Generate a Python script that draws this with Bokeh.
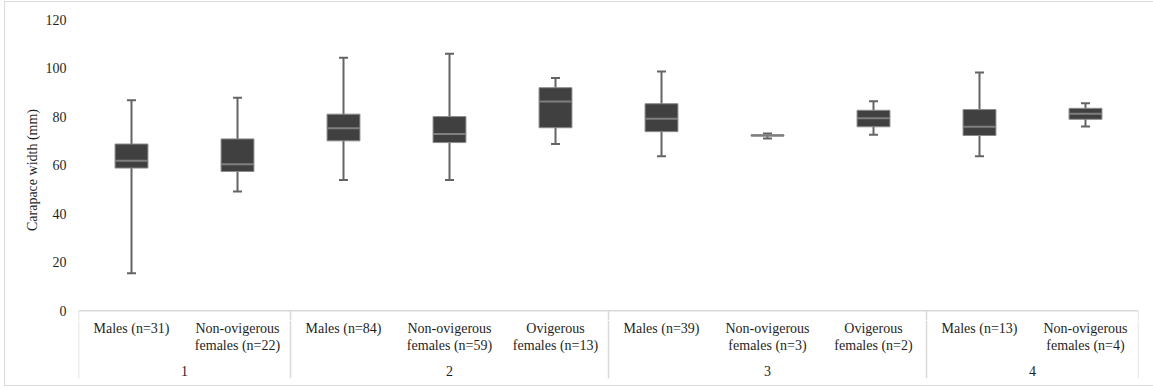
from bokeh.plotting import figure
from bokeh.layouts import column
from bokeh.models import FactorRange, Range1d, FixedTicker, ColumnDataSource
from bokeh.core.properties import value
from bokeh.embed import file_html
from bokeh.resources import INLINE

# ---- data ----
groups = ["1", "1", "2", "2", "2", "3", "3", "3", "4", "4"]
categories = [
    "Males (n=31)", "Non-ovigerous\nfemales (n=22)",
    "Males (n=84)", "Non-ovigerous\nfemales (n=59)", "Ovigerous\nfemales (n=13)",
    "Males (n=39)", "Non-ovigerous\nfemales (n=3)", "Ovigerous\nfemales (n=2)",
    "Males (n=13)", "Non-ovigerous\nfemales (n=4)",
]
mins    = [15.5, 49.1, 53.9, 53.9, 68.7, 63.7, 71.0, 72.5, 63.7, 75.9]
q1      = [58.8, 57.4, 70.0, 69.3, 75.4, 73.8, 72.0, 75.8, 72.2, 78.9]
medians = [61.8, 60.4, 75.2, 72.8, 86.2, 79.1, 72.2, 79.3, 75.8, 81.2]
q3      = [68.7, 70.8, 81.0, 80.0, 91.9, 85.3, 72.5, 82.6, 82.9, 83.4]
maxs    = [86.7, 87.8, 104.2, 105.9, 95.9, 98.6, 73.0, 86.3, 98.2, 85.5]
y_ticks = [0, 20, 40, 60, 80, 100, 120]
y_title = "Carapace width (mm)"

# ---- styling ----
FONT = "Liberation Serif"
TEXT_COLOR = "#1f1f1f"
BOX_W = 0.31
GRID_COLOR = "#d9d9d9"
SPLIT = -4.0      # value where the upper panel ends and the category table panel begins
TABLE_END = -27.9

factors = list(zip(groups, categories))
x_range = FactorRange(*factors, group_padding=0, factor_padding=0, range_padding=0)


def base(height, y_range, top, bottom):
    f = figure(width=1153, height=height, x_range=x_range, y_range=y_range,
               output_backend="svg", toolbar_location=None,
               min_border_left=78, min_border_right=15,
               min_border_top=top, min_border_bottom=bottom)
    f.outline_line_color = None
    f.border_fill_color = None
    f.background_fill_color = None
    f.xgrid.visible = False
    f.ygrid.visible = False
    f.xaxis.visible = False
    return f


p = base(320, Range1d(SPLIT, y_ticks[-1]), 19, 0)
t = base(67, Range1d(TABLE_END, SPLIT), 0, 9)
t.yaxis.visible = False

ax = p.yaxis[0]
ax.ticker = FixedTicker(ticks=y_ticks)
ax.axis_line_color = None
ax.major_tick_line_color = None
ax.minor_tick_line_color = None
ax.major_tick_out = 0
ax.major_tick_in = 0
ax.minor_tick_out = 0
ax.minor_tick_in = 0
ax.major_label_standoff = 12
ax.major_label_text_font = FONT
ax.major_label_text_font_size = "14px"
ax.major_label_text_color = TEXT_COLOR
ax.axis_label = y_title
ax.axis_label_text_font = FONT
ax.axis_label_text_font_size = "14px"
ax.axis_label_text_font_style = "normal"
ax.axis_label_text_color = TEXT_COLOR
ax.axis_label_standoff = 3

src = ColumnDataSource(dict(
    x=factors, lo=mins, q1=q1, med=medians, q3=q3, hi=maxs,
    xl=[(g, c, -BOX_W / 2) for g, c in factors],
    xr=[(g, c, BOX_W / 2) for g, c in factors],
))

# whiskers
p.segment(x0="x", x1="x", y0="lo", y1="hi", source=src, line_color="#646464", line_width=2)
p.scatter(x="x", y="lo", source=src, marker="dash", size=9, line_color="#646464", line_width=2)
p.scatter(x="x", y="hi", source=src, marker="dash", size=9, line_color="#646464", line_width=2)
# boxes
p.vbar(x="x", width=BOX_W, bottom="q1", top="q3", source=src,
       fill_color="#404040", line_color="#8a8a8a", line_width=1)
# medians
p.segment(x0="xl", x1="xr", y0="med", y1="med", source=src, line_color="#7f7f7f", line_width=2)

# ---- category table below the axis ----
first_idx = [i for i in range(len(groups)) if i == 0 or groups[i] != groups[i - 1]]
sep_x = [(groups[i], categories[i], -0.5) for i in first_idx] + [(groups[-1], categories[-1], 0.5)]
n = len(sep_x)
p.segment(x0=sep_x, x1=sep_x, y0=[0] * n, y1=[SPLIT] * n, line_color=GRID_COLOR, line_width=1.5)
t.segment(x0=sep_x, x1=sep_x, y0=[SPLIT] * n, y1=[TABLE_END] * n, line_color=GRID_COLOR, line_width=1.5)
p.segment(x0=[sep_x[0]], x1=[sep_x[-1]], y0=[0], y1=[0], line_color=GRID_COLOR, line_width=1.5)

t.text(x=factors, y=[-4.1] * len(factors), text=categories,
       text_font=value(FONT), text_font_size="14px", text_color=TEXT_COLOR,
       text_align="center", text_baseline="top", text_line_height=1.15)

group_names = [groups[i] for i in first_idx]
t.text(x=group_names, y=[-24.7] * len(group_names), text=group_names,
       text_font=value(FONT), text_font_size="14px", text_color=TEXT_COLOR,
       text_align="center", text_baseline="middle")

g = "linear-gradient(#d9d9d9,#d9d9d9)"
layout = column(p, t, spacing=0, styles={
    "background": f"{g} 4px 1px / 1px 385px no-repeat, {g} 4px 1px / 1149px 1px no-repeat, "
                  f"{g} 4px 385px / 1149px 1px no-repeat, #ffffff",
})

open("out.html", "w").write(file_html(layout, INLINE))
